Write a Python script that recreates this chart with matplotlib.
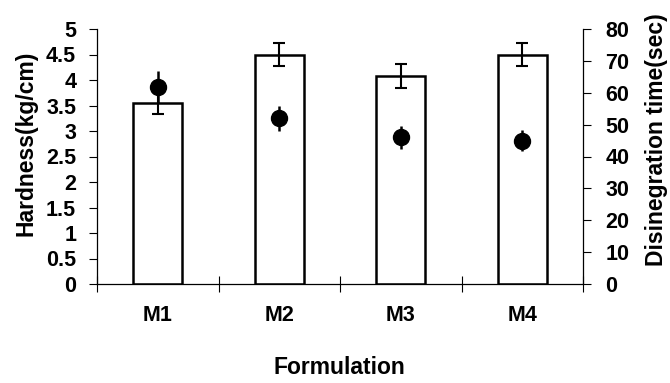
import matplotlib
matplotlib.use("Agg")
import matplotlib.pyplot as plt
import numpy as np

plt.rcParams['font.family'] = ['Liberation Sans', 'DejaVu Sans']
plt.rcParams['font.weight'] = 'bold'

formulations = ["M1", "M2", "M3", "M4"]
hardness = [3.55, 4.5, 4.08, 4.5]
hardness_err = [0.22, 0.23, 0.23, 0.23]
disintegration = [61.7, 52.0, 46.0, 45.0]
disintegration_err = [5.0, 4.0, 3.5, 3.4]
hardness_ticks = ["0", "0.5", "1", "1.5", "2", "2.5", "3", "3.5", "4", "4.5", "5"]

TICK_FS = 15.5
LABEL_FS = 16.5

fig = plt.figure(figsize=(6.7, 3.83), dpi=100)
ax = fig.add_axes([97/670, 1-284/383, 486/670, 255/383])
x = np.arange(len(formulations))

ax.bar(x, hardness, width=0.4, color="white", edgecolor="black", linewidth=1.8, zorder=2)
ax.errorbar(x, hardness, yerr=hardness_err, fmt="none", ecolor="black",
            elinewidth=1.5, capsize=4.3, capthick=1.5, zorder=3)
ax.set_xlim(-0.5, 3.5)
ax.set_ylim(0, 5)
ax.set_yticks(np.arange(0, 5.01, 0.5))
ax.set_yticklabels(hardness_ticks)
ax.set_xticks(x)
ax.set_xticklabels(formulations, fontsize=TICK_FS, fontweight="bold")
ax.set_xticks(np.arange(-0.5, 3.6, 1.0), minor=True)
ax.tick_params(axis="x", which="major", length=0, pad=15)
ax.tick_params(axis="x", which="minor", length=12, direction="inout", width=0.8)
ax.tick_params(axis="y", length=6, direction="out", width=0.8, labelsize=TICK_FS, pad=9)
for lbl in ax.get_yticklabels():
    lbl.set_fontweight("bold")
ax.spines["top"].set_visible(False)
ax.spines["right"].set_visible(False)
for s in ["left", "bottom"]:
    ax.spines[s].set_linewidth(0.9)
ax.set_ylabel("Hardness(kg/cm)", fontsize=LABEL_FS, fontweight="bold")
ax.yaxis.set_label_coords(-0.146, 0.551)
ax.set_xlabel("Formulation", fontsize=LABEL_FS, fontweight="bold")
ax.xaxis.set_label_coords(0.498, -0.327)
ax.xaxis.label.set_va("center")
ax.yaxis.label.set_va("center")

ax2 = ax.twinx()
ax2.errorbar(x, disintegration, yerr=disintegration_err, fmt="o", color="black",
             markersize=11.5, elinewidth=1.8, capsize=0, zorder=4)
ax2.set_ylim(0, 80)
ax2.set_yticks(np.arange(0, 81, 10))
ax2.tick_params(axis="y", length=6, direction="out", width=0.8, labelsize=TICK_FS, pad=10)
for lbl in ax2.get_yticklabels():
    lbl.set_fontweight("bold")
ax2.spines["top"].set_visible(False)
ax2.spines["left"].set_visible(False)
ax2.spines["bottom"].set_visible(False)
ax2.spines["right"].set_linewidth(0.9)
ax2.set_ylabel("Disinegration time(sec)", fontsize=LABEL_FS, fontweight="bold")
ax2.yaxis.set_label_coords(1.152, 0.565)
ax2.yaxis.label.set_va("center")

fig.savefig("out.png", dpi=100)
